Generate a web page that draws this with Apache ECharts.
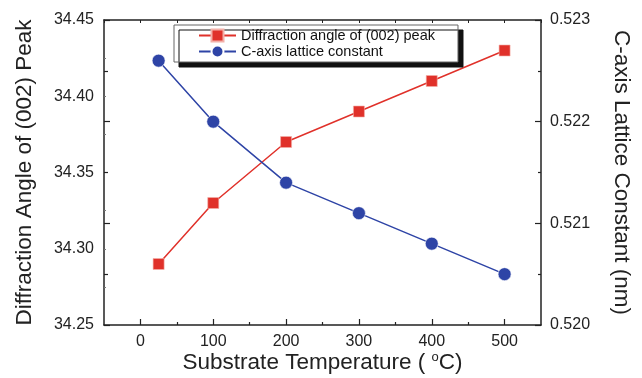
<!DOCTYPE html>
<html>
<head>
<meta charset="utf-8">
<script src="https://cdn.jsdelivr.net/npm/echarts@6/dist/echarts.min.js"></script>
<style>
html,body{margin:0;padding:0;background:#fff;}
#chart{width:642px;height:378px;}
</style>
</head>
<body>
<div id="chart"></div>
<script>
const temperatures = [25, 100, 200, 300, 400, 500];
const diffractionAngle = [34.29, 34.33, 34.37, 34.39, 34.41, 34.43];
const latticeConstant = [0.5226, 0.5220, 0.5214, 0.5211, 0.5208, 0.5205];
const xTickLabels = [0, 100, 200, 300, 400, 500];
const xMinorTicks = [50, 150, 250, 350, 450];
const seriesNames = ['Diffraction angle of (002) peak', 'C-axis lattice constant'];

const FONT = 'Liberation Sans, Arial, Helvetica, sans-serif';
const AX = '#222';
const red = '#e0312a';
const blue = '#2e44a6';

const chart = echarts.init(document.getElementById('chart'), null, {renderer: 'canvas'});
chart.setOption({
  animation: false,
  backgroundColor: '#fff',
  textStyle: {fontFamily: FONT},
  grid: {left: 104, right: 101, top: 20, bottom: 53, containLabel: false, outerBoundsMode: 'none'},
  legend: {
    left: 174, top: 25, orient: 'vertical',
    padding: [3, 23, 3, 24], itemGap: 1, itemWidth: 37, itemHeight: 15,
    backgroundColor: '#fff', borderColor: '#666', borderWidth: 1,
    shadowColor: '#111', shadowOffsetX: 5, shadowOffsetY: 5, shadowBlur: 0,
    textStyle: {fontFamily: FONT, fontSize: 14.5, color: '#111'},
    data: seriesNames
  },
  xAxis: [
    {
      type: 'value', min: -50, max: 550, position: 'bottom', gridIndex: 0,
      axisLine: {show: true, onZero: false, lineStyle: {color: AX, width: 1.5}},
      axisTick: {show: true, inside: true, length: 6, customValues: xTickLabels, lineStyle: {color: AX, width: 1.2}},
      axisLabel: {show: true, customValues: xTickLabels, fontSize: 16, color: AX, margin: 9, fontFamily: FONT},
      splitLine: {show: false},
      name: '{a|Substrate Temperature ( }{s|o}{a|C)}',
      nameLocation: 'middle', nameGap: 26, nameMoveOverlap: false,
      nameTextStyle: {
        rich: {
          a: {fontSize: 22.5, color: AX, fontFamily: FONT},
          s: {fontSize: 13, color: AX, fontFamily: FONT, verticalAlign: 'top', padding: [0, 0, 10, 0]}
        }
      }
    },
    {
      type: 'value', min: -50, max: 550, position: 'bottom', gridIndex: 0,
      axisLine: {show: false, onZero: false},
      axisTick: {show: true, inside: true, length: 3, customValues: xMinorTicks, lineStyle: {color: AX, width: 1.2}},
      axisLabel: {show: false},
      splitLine: {show: false}
    },
    {
      type: 'value', min: -50, max: 550, interval: 50, position: 'top', gridIndex: 0,
      axisLine: {show: true, onZero: false, lineStyle: {color: AX, width: 1.5}},
      axisTick: {show: true, inside: true, length: 3, lineStyle: {color: AX, width: 1}},
      axisLabel: {show: false},
      splitLine: {show: false}
    }
  ],
  yAxis: [
    {
      type: 'value', min: 34.25, max: 34.45, interval: 0.05, position: 'left',
      axisLine: {show: true, onZero: false, lineStyle: {color: AX, width: 1.5}},
      axisTick: {show: true, inside: true, length: 2, lineStyle: {color: '#777', width: 1}},
      minorTick: {show: true, splitNumber: 2, length: 2, lineStyle: {color: '#777', width: 1}},
      axisLabel: {fontSize: 16, color: AX, margin: 10, fontFamily: FONT, formatter: v => v.toFixed(2)},
      splitLine: {show: false},
      name: 'Diffraction Angle of (002) Peak',
      nameLocation: 'middle', nameGap: 68,
      nameTextStyle: {fontSize: 22.5, color: AX, fontFamily: FONT}
    },
    {
      type: 'value', min: 0.520, max: 0.523, interval: 0.001, position: 'right',
      axisLine: {show: true, onZero: false, lineStyle: {color: AX, width: 1.5}},
      axisTick: {show: true, inside: true, length: 6, lineStyle: {color: AX, width: 1.2}},
      minorTick: {show: true, splitNumber: 2, length: 3, lineStyle: {color: AX, width: 1.2}},
      axisLabel: {fontSize: 16, color: AX, margin: 9, fontFamily: FONT, formatter: v => v.toFixed(3)},
      splitLine: {show: false},
      name: 'C-axis Lattice Constant (nm)',
      nameLocation: 'middle', nameGap: 69, nameRotate: -90,
      nameTextStyle: {fontSize: 22.5, color: AX, fontFamily: FONT}
    },
    {
      type: 'value', min: 0.520, max: 0.523, interval: 0.001, position: 'left',
      axisLine: {show: false, onZero: false},
      axisTick: {show: true, inside: true, length: 6, lineStyle: {color: AX, width: 1.2}},
      minorTick: {show: true, splitNumber: 2, length: 4, lineStyle: {color: AX, width: 1.2}},
      axisLabel: {show: false},
      splitLine: {show: false}
    }
  ],
  series: [
    {
      name: seriesNames[0], type: 'line', xAxisIndex: 0, yAxisIndex: 0,
      data: temperatures.map((t, i) => [t, diffractionAngle[i]]),
      symbol: 'rect', symbolSize: 11,
      lineStyle: {color: red, width: 1.5},
      itemStyle: {color: red, borderColor: '#f3b0a8', borderWidth: 0.6},
      z: 3
    },
    {
      name: seriesNames[1], type: 'line', xAxisIndex: 0, yAxisIndex: 1,
      data: temperatures.map((t, i) => [t, latticeConstant[i]]),
      symbol: 'circle', symbolSize: 13,
      lineStyle: {color: blue, width: 1.5},
      itemStyle: {color: blue, borderColor: '#fff', borderWidth: 0.6},
      z: 4
    }
  ]
});
</script>
</body>
</html>
